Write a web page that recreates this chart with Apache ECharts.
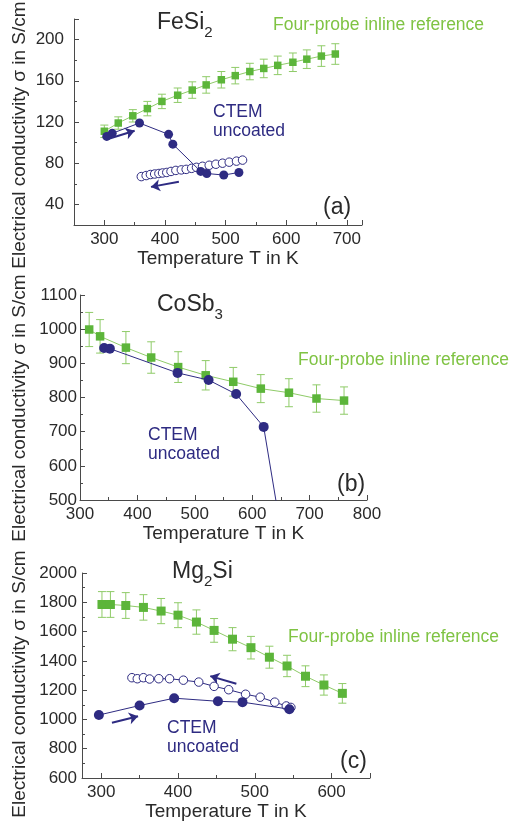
<!DOCTYPE html>
<html><head><meta charset="utf-8">
<script src="https://cdn.jsdelivr.net/npm/echarts@6/dist/echarts.min.js"></script>
<style>html,body{margin:0;padding:0;background:#fff}#c{width:516px;height:825px}</style>
</head><body><div id="c"></div>
<script>
// ---------- Panel (a) FeSi2 ----------
const feRefT   = [300, 323, 347, 371, 395, 421, 445, 468, 493, 516, 540, 563, 586, 611, 634, 658, 681];
const feRefS   = [111, 119, 126, 133, 140, 146, 151, 156, 161, 165, 169, 172, 175, 178, 181, 184, 186];
const feRefErr = [6, 6, 6, 7, 7, 7, 8, 8, 8, 8, 8, 9, 9, 9, 9, 10, 10];
const feUpT    = [304, 313, 358, 406, 413, 459, 469, 497, 522];
const feUpS    = [106, 109, 119, 108, 98.5, 72, 70, 68.5, 71];
const feDownT  = [361, 369, 376, 383, 390, 396, 403, 410, 418, 427, 435, 444, 452, 462, 473, 484, 495, 506, 518, 528];
const feDownS  = [67, 68, 69, 69.5, 70, 70.5, 71, 72, 73, 73.5, 74, 75, 76, 77, 78, 79, 80, 81, 82, 83];
const feArrowUp   = [[306, 103.5], [350, 111.5]];
const feArrowDown = [[423, 62], [377, 57]];

// ---------- Panel (b) CoSb3 ----------
const coRefT   = [316, 335, 380, 424, 471, 519, 567, 615, 664, 712, 760];
const coRefS   = [999, 979, 946, 917, 889, 865, 846, 826, 814, 797, 791];
const coRefErr = [50, 49, 47, 46, 45, 43, 42, 41, 41, 40, 40];
const coUpT    = [342, 352, 470, 524, 572, 620, 650];
const coUpS    = [945, 943, 872, 851, 810, 714, 411];

// ---------- Panel (c) Mg2Si ----------
const mgRefT   = [301, 312, 332, 355, 378, 400, 424, 447, 471, 495, 519, 542, 566, 590, 614];
const mgRefS   = [1785, 1785, 1778, 1765, 1740, 1712, 1665, 1608, 1548, 1490, 1425, 1365, 1295, 1235, 1178];
const mgRefErr = [88, 88, 88, 87, 86, 85, 83, 81, 79, 77, 75, 73, 71, 69, 67];
const mgUpT    = [297, 350, 395, 452, 484, 545];
const mgUpS    = [1030, 1095, 1145, 1124, 1118, 1070];
const mgDownT  = [340, 347, 355, 363, 375, 389, 407, 427, 447, 466, 488, 507, 526, 541, 547];
const mgDownS  = [1285, 1278, 1285, 1276, 1278, 1278, 1268, 1255, 1226, 1203, 1172, 1152, 1118, 1092, 1082];
const mgArrowUp   = [[314, 977], [348, 1022]];
const mgArrowDown = [[476, 1244], [442, 1296]];

// ---------- Axis settings ----------
const xRanges = [[250, 725, 100], [300, 800, 100], [275, 650, 100]];
const yRanges = [[20, 220, 40], [500, 1100, 100], [600, 2000, 200]];
const xTitle = 'Temperature T in K';
const yTitle = 'Electrical conductivity \u03c3 in S/cm';
const refLabel = 'Four-probe inline reference';

const FONT = '"Liberation Sans", Arial, Helvetica, sans-serif';
const NAVY = '#2e2b82';
const GREEN = '#5cb53a';
const GREEN_LINE = '#8fcb68';
const GREEN_TEXT = '#7fc343';
const AX = '#4a4a4a';
const TXT = '#2a2a2a';

const grids = [
  {left: 74, top: 19, width: 288, height: 206},
  {left: 80, top: 295, width: 287, height: 205},
  {left: 82, top: 573, width: 288, height: 205}
];
const yLabelMargin = [10, 3, 5];
const squareSize = [7.5, 8.5, 9];
const filledSize = [9, 10, 10];
const openSize = [8.5, 8.5, 8.5];

const zip = (a, b) => a.map((v, i) => [v, b[i]]);
const errData = (t, s, e) => t.map((v, i) => [v, s[i] - e[i], s[i] + e[i]]);

function mkX(i) {
  const [mn, mx, st] = xRanges[i];
  return {
    type: 'value', gridIndex: i, min: mn, max: mx, minInterval: st, maxInterval: st,
    axisLine: {show: true, onZero: false, lineStyle: {color: AX, width: 1}},
    axisTick: {show: true, inside: true, length: 5, lineStyle: {color: AX}},
    minorTick: {show: true, splitNumber: 2, length: 3, lineStyle: {color: AX}},
    splitLine: {show: false}, minorSplitLine: {show: false},
    axisLabel: {
      margin: 6, color: TXT, fontFamily: FONT, fontSize: 17,
      showMinLabel: true, showMaxLabel: true,
      formatter: v => (Math.abs(v % st) < 1e-6 ? String(v) : '')
    },
    name: xTitle, nameLocation: 'middle', nameGap: 24,
    nameTextStyle: {color: TXT, fontFamily: FONT, fontSize: 19}
  };
}
function mkY(i) {
  const [mn, mx, st] = yRanges[i];
  return {
    type: 'value', gridIndex: i, min: mn, max: mx, minInterval: st, maxInterval: st,
    axisLine: {show: true, onZero: false, lineStyle: {color: AX, width: 1}},
    axisTick: {show: true, inside: true, length: 5, lineStyle: {color: AX}},
    minorTick: {show: true, splitNumber: 2, length: 3, lineStyle: {color: AX}},
    splitLine: {show: false}, minorSplitLine: {show: false},
    axisLabel: {
      margin: yLabelMargin[i], color: TXT, fontFamily: FONT, fontSize: 17,
      formatter: v => (Math.abs(v % st) < 1e-6 ? String(v) : '')
    }
  };
}

function errRender(params, api) {
  const x = api.value(0), lo = api.value(1), hi = api.value(2);
  const p1 = api.coord([x, hi]), p2 = api.coord([x, lo]);
  const w = 4;
  const style = {stroke: GREEN_LINE, lineWidth: 1, fill: null};
  return {type: 'group', children: [
    {type: 'line', shape: {x1: p1[0], y1: p1[1], x2: p2[0], y2: p2[1]}, style},
    {type: 'line', shape: {x1: p1[0] - w, y1: p1[1], x2: p1[0] + w, y2: p1[1]}, style},
    {type: 'line', shape: {x1: p2[0] - w, y1: p2[1], x2: p2[0] + w, y2: p2[1]}, style}
  ]};
}

function errSeries(i, t, s, e) {
  return {type: 'custom', xAxisIndex: i, yAxisIndex: i, renderItem: errRender,
    data: errData(t, s, e), encode: {x: 0, y: [1, 2]}, z: 1, silent: true, clip: true};
}
function refSeries(i, t, s) {
  return {type: 'line', xAxisIndex: i, yAxisIndex: i, data: zip(t, s),
    symbol: 'rect', symbolSize: squareSize[i], itemStyle: {color: GREEN},
    lineStyle: {color: GREEN_LINE, width: 1}, z: 2, silent: true};
}
function arrowLine(a) {
  return [{coord: a[0]}, {coord: a[1]}];
}
function upSeries(i, t, s, arrows) {
  const o = {type: 'line', xAxisIndex: i, yAxisIndex: i, data: zip(t, s),
    symbol: 'circle', symbolSize: filledSize[i], itemStyle: {color: NAVY, borderWidth: 0},
    lineStyle: {color: NAVY, width: 1}, z: 4, silent: true, clip: true};
  if (arrows) {
    o.markLine = {silent: true, symbol: ['none', 'arrow'], symbolSize: 9, animation: false,
      label: {show: false}, lineStyle: {color: NAVY, width: 2, type: 'solid'},
      data: arrows.map(arrowLine)};
  }
  return o;
}
function downSeries(i, t, s) {
  return {type: 'line', xAxisIndex: i, yAxisIndex: i, data: zip(t, s),
    symbol: 'circle', symbolSize: openSize[i], showAllSymbol: true,
    itemStyle: {color: '#ffffff', borderColor: NAVY, borderWidth: 1},
    lineStyle: {color: NAVY, width: 1}, z: 3, silent: true};
}

function txt(x, y, text, size, color, rich) {
  const st = {text, x: 0, y: 0, fill: color, font: size + 'px ' + FONT,
    fontFamily: FONT, fontSize: size, textAlign: 'left', textVerticalAlign: 'middle'};
  if (rich) st.rich = rich;
  return {type: 'text', x, y, style: st, silent: true};
}
const subRich = (big, small, pad) => ({
  m: {fontSize: big, fontFamily: FONT, fill: TXT, color: TXT},
  s: {fontSize: small, fontFamily: FONT, fill: TXT, color: TXT, padding: [pad, 0, 0, 0]}
});
function yTitleEl(y) {
  return {type: 'text', x: 20, y, rotation: Math.PI / 2, silent: true,
    style: {text: yTitle, fill: TXT, fontFamily: FONT, fontSize: 19,
      font: '19px ' + FONT, textAlign: 'center', textVerticalAlign: 'middle'}};
}

const graphics = [
  yTitleEl(135), yTitleEl(408), yTitleEl(684),
  // (a)
  txt(157, 23, '{m|FeSi}{s|2}', 23, TXT, subRich(23, 15, 20)),
  txt(273, 25, refLabel, 17.5, GREEN_TEXT),
  txt(213, 112, 'CTEM', 17.5, NAVY),
  txt(213, 131, 'uncoated', 17.5, NAVY),
  txt(323, 208, '(a)', 23, TXT),
  // (b)
  txt(157, 305, '{m|CoSb}{s|3}', 23, TXT, subRich(23, 15, 20)),
  txt(298, 360, refLabel, 17.5, GREEN_TEXT),
  txt(148, 435, 'CTEM', 17.5, NAVY),
  txt(148, 454, 'uncoated', 17.5, NAVY),
  txt(337, 485, '(b)', 23, TXT),
  // (c)
  txt(172, 572, '{m|Mg}{s|2}{m|Si}', 23, TXT, subRich(23, 15, 20)),
  txt(288, 637, refLabel, 17.5, GREEN_TEXT),
  txt(167, 728, 'CTEM', 17.5, NAVY),
  txt(167, 747, 'uncoated', 17.5, NAVY),
  txt(340, 762, '(c)', 23, TXT)
];

const chart = echarts.init(document.getElementById('c'), null, {renderer: 'canvas'});
chart.setOption({
  animation: false,
  backgroundColor: '#ffffff',
  grid: grids.map(g => Object.assign({containLabel: false, outerBoundsMode: 'none'}, g)),
  xAxis: [0, 1, 2].map(mkX),
  yAxis: [0, 1, 2].map(mkY),
  graphic: graphics,
  series: [
    errSeries(0, feRefT, feRefS, feRefErr),
    refSeries(0, feRefT, feRefS),
    downSeries(0, feDownT, feDownS),
    upSeries(0, feUpT, feUpS, [feArrowUp, feArrowDown]),

    errSeries(1, coRefT, coRefS, coRefErr),
    refSeries(1, coRefT, coRefS),
    upSeries(1, coUpT, coUpS, null),

    errSeries(2, mgRefT, mgRefS, mgRefErr),
    refSeries(2, mgRefT, mgRefS),
    downSeries(2, mgDownT, mgDownS),
    upSeries(2, mgUpT, mgUpS, [mgArrowUp, mgArrowDown])
  ]
});
</script></body></html>
